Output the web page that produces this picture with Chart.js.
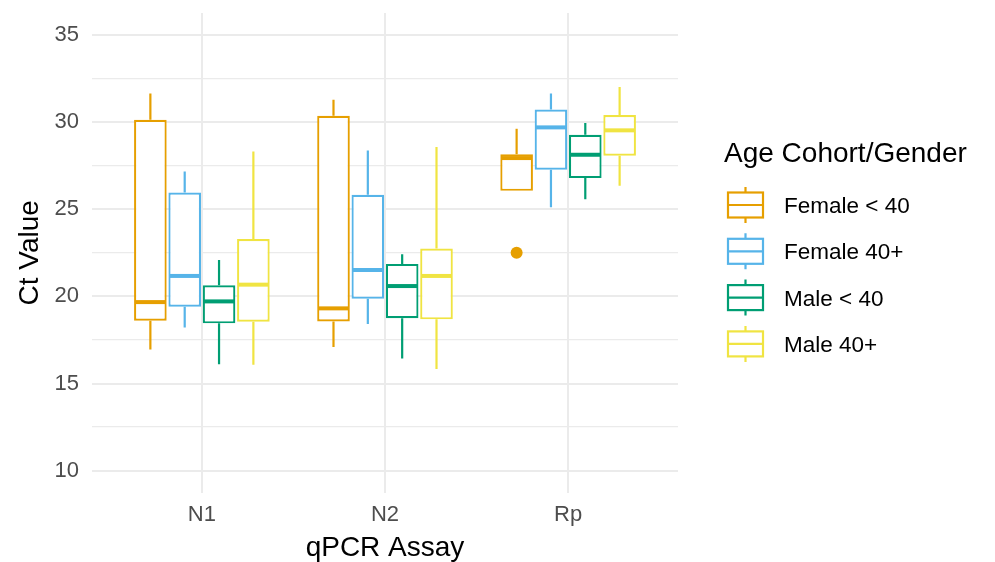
<!DOCTYPE html>
<html>
<head>
<meta charset="utf-8">
<script src="https://cdn.jsdelivr.net/npm/chart.js@4.4.1/dist/chart.umd.min.js"></script>
<style>
  html, body { margin: 0; padding: 0; background: #fff; }
  #wrap { width: 995px; height: 562px; position: relative; }
</style>
</head>
<body>
<div id="wrap"><canvas id="chart"></canvas></div>
<script>
const assays = ["N1", "N2", "Rp"];
const cohorts = ["Female < 40", "Female 40+", "Male < 40", "Male 40+"];
const colours = ["#E69F00", "#56B4E9", "#009E73", "#F0E442"];

// one row per cohort, one column per assay
const whiskerLow = [
  [16.95, 17.10, 26.05],
  [18.22, 18.41, 25.11],
  [16.11, 16.44, 25.57],
  [16.07, 15.84, 26.34],
];
const q1 = [
  [18.60, 18.56, 26.05],
  [19.40, 19.86, 27.26],
  [18.45, 18.75, 26.78],
  [18.54, 18.68, 28.06],
];
const median = [
  [19.67, 19.31, 27.93],
  [21.17, 21.51, 29.69],
  [19.71, 20.59, 28.12],
  [20.67, 21.17, 29.52],
];
const q3 = [
  [30.13, 30.36, 28.15],
  [25.95, 25.82, 30.71],
  [20.63, 21.86, 29.27],
  [23.29, 22.74, 30.40],
];
const whiskerHigh = [
  [31.63, 31.28, 29.61],
  [27.16, 28.37, 31.63],
  [22.09, 22.41, 29.94],
  [28.31, 28.56, 32.01],
];
const outliers = [
  [[], [], [22.5]],
  [[], [], []],
  [[], [], []],
  [[], [], []],
];
const yTicks = [10, 12.5, 15, 17.5, 20, 22.5, 25, 27.5, 30, 32.5, 35];

const FONT = "'Liberation Sans', Arial, Helvetica, sans-serif";
const GRID = "#EBEBEB";

const datasets = cohorts.map((name, k) => ({
  label: name,
  data: assays.map((a, i) => ({ x: i + 1, y: [q1[k][i], q3[k][i]] })),
  backgroundColor: "#FFFFFF",
  borderColor: colours[k],
  borderWidth: 2.2,
  borderSkipped: false,
  categoryPercentage: 0.75,
  barPercentage: 0.95,
}));

// whiskers, medians and outliers on top of the IQR bars
const boxParts = {
  id: "boxParts",
  afterDatasetsDraw(chart) {
    const ctx = chart.ctx;
    const y = chart.scales.y;
    chart.data.datasets.forEach((ds, k) => {
      const meta = chart.getDatasetMeta(k);
      meta.data.forEach((bar, i) => {
        const cx = bar.x;
        const half = bar.width / 2;
        ctx.save();
        ctx.strokeStyle = colours[k];
        ctx.lineWidth = 2.2;
        ctx.beginPath();
        ctx.moveTo(cx, y.getPixelForValue(q3[k][i]));
        ctx.lineTo(cx, y.getPixelForValue(whiskerHigh[k][i]));
        ctx.moveTo(cx, y.getPixelForValue(q1[k][i]));
        ctx.lineTo(cx, y.getPixelForValue(whiskerLow[k][i]));
        ctx.stroke();
        ctx.lineWidth = 4;
        ctx.beginPath();
        const my = y.getPixelForValue(median[k][i]);
        ctx.moveTo(cx - half + 1, my);
        ctx.lineTo(cx + half - 1, my);
        ctx.stroke();
        ctx.fillStyle = colours[k];
        outliers[k][i].forEach((v) => {
          ctx.beginPath();
          ctx.arc(cx, y.getPixelForValue(v), 6, 0, Math.PI * 2);
          ctx.fill();
        });
        ctx.restore();
      });
    });
  },
};

const boxLegend = {
  id: "boxLegend",
  afterDraw(chart) {
    const ctx = chart.ctx;
    ctx.save();
    ctx.fillStyle = "#000";
    ctx.font = `28px ${FONT}`;
    ctx.textBaseline = "alphabetic";
    ctx.fillText("Age Cohort/Gender", 724, 162);
    cohorts.forEach((name, k) => {
      const cy = 205 + k * 46.3;
      ctx.strokeStyle = colours[k];
      ctx.lineWidth = 2.2;
      ctx.strokeRect(728, cy - 12.5, 35, 25);
      ctx.beginPath();
      ctx.moveTo(745.5, cy - 12.5);
      ctx.lineTo(745.5, cy - 18);
      ctx.moveTo(745.5, cy + 12.5);
      ctx.lineTo(745.5, cy + 18);
      ctx.moveTo(728, cy);
      ctx.lineTo(763, cy);
      ctx.stroke();
      ctx.fillStyle = "#000";
      ctx.font = `22.5px ${FONT}`;
      ctx.fillText(name, 784, cy + 8);
    });
    ctx.restore();
  },
};

new Chart(document.getElementById("chart"), {
  type: "bar",
  data: { datasets },
  options: {
    responsive: true,
    maintainAspectRatio: false,
    animation: false,
    layout: { padding: { top: 13, right: 317, left: 0, bottom: 0 } },
    plugins: {
      legend: { display: false },
      tooltip: { enabled: false },
    },
    scales: {
      x: {
        type: "linear",
        min: 0.4,
        max: 3.6,
        offset: false,
        afterBuildTicks: (s) => { s.ticks = assays.map((a, i) => ({ value: i + 1 })); },
        afterFit: (s) => { s.height = 69.5; s.paddingLeft = 0; s.paddingRight = 0; },
        ticks: {
          callback: (v) => assays[v - 1] ?? "",
          color: "#4D4D4D",
          font: { family: FONT, size: 22 },
          padding: 9,
          maxRotation: 0,
        },
        grid: { color: GRID, lineWidth: 2, drawTicks: false, offset: false },
        border: { display: false },
        title: {
          display: true,
          text: "qPCR Assay",
          color: "#000",
          font: { family: FONT, size: 28, lineHeight: 1 },
          padding: { top: 0, bottom: 0 },
        },
      },
      y: {
        min: 8.75,
        max: 36.25,
        afterBuildTicks: (s) => { s.ticks = yTicks.map((v) => ({ value: v })); },
        afterFit: (s) => { s.width = 92; s.paddingTop = 0; s.paddingBottom = 0; },
        ticks: {
          callback: (v) => (v % 5 === 0 ? String(v) : ""),
          color: "#4D4D4D",
          font: { family: FONT, size: 22 },
          padding: 13,
        },
        grid: {
          color: GRID,
          lineWidth: (c) => (c.tick && c.tick.value % 5 === 0 ? 2 : 1.3),
          drawTicks: false,
        },
        border: { display: false },
        title: {
          display: true,
          text: "Ct Value",
          color: "#000",
          font: { family: FONT, size: 28, lineHeight: 1 },
          padding: { top: 16, bottom: 0 },
        },
      },
    },
  },
  plugins: [boxParts, boxLegend],
});
</script>
</body>
</html>
